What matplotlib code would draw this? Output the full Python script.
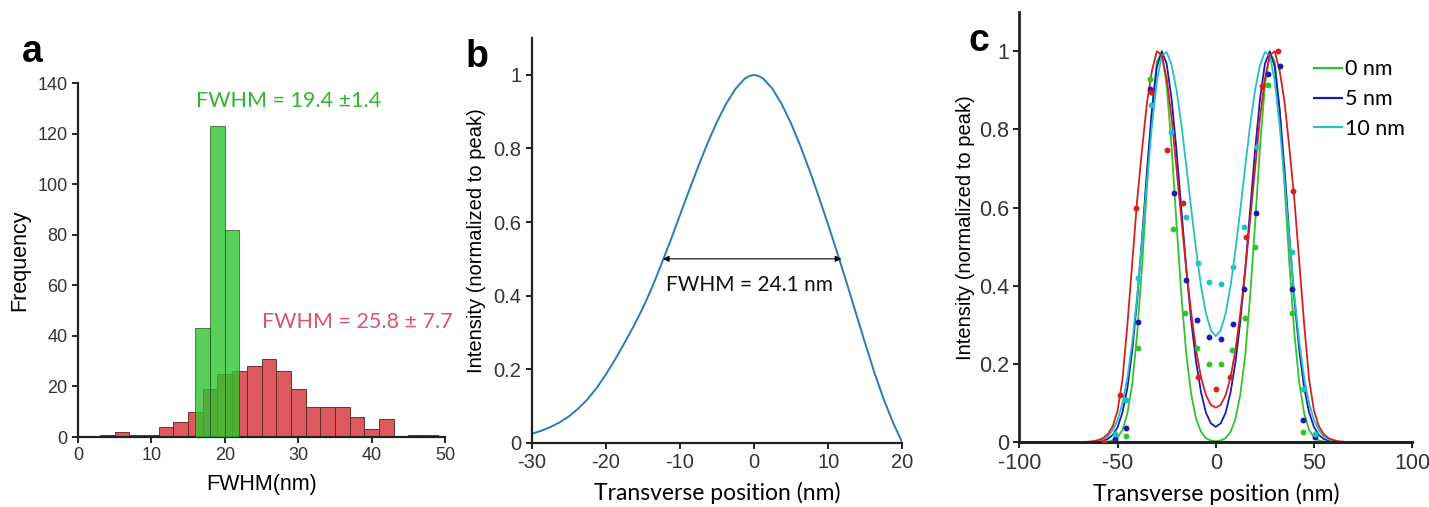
import numpy as np
import matplotlib
matplotlib.use('Agg')
import matplotlib.pyplot as plt
from matplotlib.lines import Line2D

plt.rcParams['font.family'] = 'Liberation Sans'
plt.rcParams['axes.unicode_minus'] = False

# ---- painel a: histogramas de FWHM ----
bordas_vermelho = [3, 5, 7, 9, 11, 13, 15, 17, 19, 21, 23, 25, 27, 29, 31, 33, 35, 37, 39, 41, 43, 45, 47, 49]
contagem_vermelho = [1, 2, 1, 1, 4, 6, 10, 19, 25, 26, 28, 31, 26, 19, 12, 12, 12, 8, 3, 7, 0, 1, 1]
bordas_verde = [16, 18, 20, 22]
contagem_verde = [43, 123, 82]

# ---- painel b: perfil de intensidade ----
posicao_b = [-30, -28.75, -27.5, -26.25, -25, -23.75, -22.5, -21.25, -20, -18.75, -17.5, -16.25,
             -15, -13.75, -12.5, -11.25, -10, -8.75, -7.5, -6.25, -5, -3.75, -2.5, -1.25, -0.625, 0,
             0.625, 1.25, 2.5, 3.75, 5, 6.25, 7.5, 8.75, 10, 11.25, 12.5, 13.75, 15, 16.25, 17.5, 18.75, 20]
intensidade_b = [0.024, 0.032, 0.042, 0.055, 0.071, 0.092, 0.117, 0.148, 0.185, 0.226, 0.27, 0.316,
                 0.366, 0.422, 0.485, 0.55, 0.618, 0.686, 0.752, 0.815, 0.872, 0.922, 0.962, 0.99, 0.997, 1.0,
                 0.997, 0.99, 0.962, 0.92, 0.868, 0.807, 0.74, 0.668, 0.593, 0.515, 0.435, 0.352, 0.27, 0.19, 0.118, 0.055, 0.0]

# ---- painel c: ajustes (linhas) e pontos medidos ----
posicao_c = np.concatenate([[-100], np.arange(-70, 70.01, 2.5), [100]])
ajuste_0nm = [0,
              0, 0, 0, 0, 0, 0, 0.001, 0.004, 0.012, 0.031, 0.073, 0.150, 0.278, 0.452, 0.655, 0.848,
              0.974, 0.995, 0.912, 0.755, 0.559, 0.375, 0.224, 0.122, 0.059, 0.026, 0.010, 0.004,
              0.002, 0.004, 0.010, 0.026, 0.059, 0.122, 0.224, 0.375, 0.559, 0.755, 0.912, 0.995,
              0.974, 0.848, 0.655, 0.452, 0.278, 0.150, 0.073, 0.031, 0.012, 0.004, 0.001, 0, 0, 0, 0, 0, 0,
              0]
ajuste_5nm = [0,
              0, 0, 0, 0, 0.001, 0.003, 0.008, 0.018, 0.038, 0.076, 0.138, 0.235, 0.365, 0.524, 0.696, 0.851,
              0.960, 1.000, 0.968, 0.878, 0.746, 0.594, 0.443, 0.310, 0.204, 0.127, 0.075, 0.048,
              0.039, 0.048, 0.075, 0.127, 0.204, 0.310, 0.443, 0.594, 0.746, 0.878, 0.968, 1.000,
              0.960, 0.851, 0.696, 0.524, 0.365, 0.235, 0.138, 0.076, 0.038, 0.018, 0.008, 0.003, 0.001, 0, 0, 0, 0,
              0]
ajuste_10nm = [0,
               0, 0, 0, 0.001, 0.003, 0.007, 0.015, 0.030, 0.056, 0.099, 0.164, 0.256, 0.375, 0.516, 0.667, 0.810,
               0.923, 0.989, 0.998, 0.965, 0.901, 0.812, 0.706, 0.596, 0.491, 0.399, 0.329, 0.286,
               0.271, 0.286, 0.329, 0.399, 0.491, 0.596, 0.706, 0.812, 0.901, 0.965, 0.998, 0.989,
               0.923, 0.810, 0.667, 0.516, 0.375, 0.256, 0.164, 0.099, 0.056, 0.030, 0.015, 0.007, 0.003, 0.001, 0, 0, 0,
               0]
ajuste_vermelho = [0,
                   0, 0, 0.001, 0.002, 0.005, 0.010, 0.020, 0.040, 0.080, 0.160, 0.300, 0.460, 0.620, 0.750, 0.870, 0.950,
                   1.000, 0.990, 0.930, 0.830, 0.700, 0.570, 0.440, 0.330, 0.235, 0.165, 0.120, 0.095,
                   0.088, 0.095, 0.120, 0.165, 0.235, 0.330, 0.440, 0.570, 0.700, 0.830, 0.930, 0.990,
                   1.000, 0.950, 0.870, 0.750, 0.620, 0.460, 0.300, 0.160, 0.080, 0.040, 0.020, 0.010, 0.005, 0.002, 0.001, 0, 0,
                   0]

pontos_0nm_x = [-45.6, -39.7, -33.6, -21.7, -15.6, -9.7, -3.7, 2.7, 8.3, 14.9, 20.2, 26.5, 38.7, 44.6]
pontos_0nm_y = [0.015, 0.24, 0.928, 0.545, 0.331, 0.24, 0.2, 0.2, 0.235, 0.317, 0.5, 0.914, 0.331, 0.026]
pontos_5nm_x = [-51.4, -45.6, -39.4, -33.4, -21.5, -15.3, -9.5, -3.7, 2.7, 8.7, 14.6, 20.5, 26.5, 32.7, 39.0, 44.6, 50.6]
pontos_5nm_y = [0.009, 0.037, 0.307, 0.903, 0.638, 0.415, 0.312, 0.269, 0.265, 0.301, 0.391, 0.585, 0.941, 0.961, 0.391, 0.056, 0.012]
pontos_10nm_x = [-51.4, -45.6, -39.7, -33.1, -22.6, -15.1, -9.3, -3.7, 2.7, 8.7, 14.6, 20.9, 39.0, 44.6, 50.6]
pontos_10nm_y = [0.02, 0.108, 0.42, 0.863, 0.794, 0.577, 0.459, 0.409, 0.404, 0.449, 0.551, 0.754, 0.487, 0.137, 0.022]
pontos_verm_x = [-56.8, -48.7, -40.7, -33.1, -24.6, -16.8, -9.0, 0.0, 7.3, 15.4, 23.4, 31.9, 39.5]
pontos_verm_y = [0.0, 0.121, 0.598, 0.897, 0.747, 0.613, 0.167, 0.137, 0.167, 0.526, 0.91, 1.0, 0.642]

COR_VERDE = '#2ec42e'
COR_AZUL = '#1c1cb0'
COR_CIANO = '#22c2c2'
COR_VERMELHO = '#d42020'

FONTE_EIXO = 'Liberation Sans'
FONTE_TEXTO = 'Lato'


def estilo_eixos(ax, tamanho_ticks):
    """Deixa apenas os eixos esquerdo e inferior, como no original."""
    for lado in ['top', 'right']:
        ax.spines[lado].set_visible(False)
    for lado in ['left', 'bottom']:
        ax.spines[lado].set_linewidth(1.6)
        ax.spines[lado].set_color('#222222')
    ax.tick_params(direction='out', length=4, width=1.4, labelsize=tamanho_ticks,
                   labelcolor='#333333', color='#222222')


def painel_a(ax):
    larg_v = np.diff(bordas_vermelho)
    ax.bar(bordas_vermelho[:-1], contagem_vermelho, width=larg_v, align='edge',
           color='#dc5a5e', edgecolor='#5a2020', linewidth=0.6, zorder=2)
    larg_g = np.diff(bordas_verde)
    ax.bar(bordas_verde[:-1], contagem_verde, width=larg_g, align='edge',
           color=COR_VERDE, alpha=0.8, edgecolor='#1f4f1f', linewidth=0.6, zorder=3)
    ax.set_xlim(0, 50)
    ax.set_ylim(0, 140)
    ax.set_xticks(range(0, 51, 10))
    ax.set_yticks(range(0, 141, 20))
    estilo_eixos(ax, 13)
    ax.set_xlabel('FWHM(nm)', family=FONTE_EIXO, fontsize=15.5, labelpad=7)
    ax.set_ylabel('Frequency', family=FONTE_EIXO, fontsize=15.5, labelpad=5)
    ax.text(28.7, 133, 'FWHM = 19.4 \u00b11.4', color='#2fb52f', family=FONTE_TEXTO,
            fontsize=15.5, ha='center', va='center')
    ax.text(38.1, 45.6, 'FWHM = 25.8 \u00b1 7.7', color='#d65670', family=FONTE_TEXTO,
            fontsize=15.5, ha='center', va='center', clip_on=False)


def painel_b(ax):
    ax.plot(posicao_b, intensidade_b, color='#2a7bbd', linewidth=1.4)
    ax.annotate('', xy=(-12.3, 0.5), xytext=(11.8, 0.5),
                arrowprops=dict(arrowstyle='<|-|>', color='black', lw=0.8,
                                mutation_scale=9, shrinkA=0, shrinkB=0))
    ax.text(-0.6, 0.43, 'FWHM = 24.1 nm', family=FONTE_TEXTO, fontsize=15,
            ha='center', va='center', color='#111111')
    ax.set_xlim(-30, 20)
    ax.set_ylim(0, 1.1)
    ax.set_xticks(range(-30, 21, 10))
    ax.set_yticks([0, 0.2, 0.4, 0.6, 0.8, 1])
    ax.set_yticklabels(['0', '0.2', '0.4', '0.6', '0.8', '1'])
    estilo_eixos(ax, 14.5)
    ax.set_xlabel('Transverse position (nm)', family=FONTE_TEXTO, fontsize=16.5, labelpad=7)
    ax.set_ylabel('Intensity (normalized to peak)', family=FONTE_EIXO, fontsize=14.5, labelpad=5)


def painel_c(ax):
    lw = 1.3
    ax.plot(posicao_c, ajuste_0nm, color=COR_VERDE, linewidth=lw, zorder=2)
    ax.plot(posicao_c, ajuste_5nm, color=COR_AZUL, linewidth=lw, zorder=2)
    ax.plot(posicao_c, ajuste_10nm, color=COR_CIANO, linewidth=lw, zorder=2)
    ax.plot(posicao_c, ajuste_vermelho, color=COR_VERMELHO, linewidth=lw, zorder=2)
    ax.scatter(pontos_0nm_x, pontos_0nm_y, s=18, color=COR_VERDE, zorder=3, linewidths=0)
    ax.scatter(pontos_5nm_x, pontos_5nm_y, s=18, color=COR_AZUL, zorder=3, linewidths=0)
    ax.scatter(pontos_10nm_x, pontos_10nm_y, s=18, color=COR_CIANO, zorder=3, linewidths=0)
    ax.scatter(pontos_verm_x, pontos_verm_y, s=18, color=COR_VERMELHO, zorder=3, linewidths=0)
    ax.set_xlim(-100, 100)
    ax.set_ylim(0, 1.1)
    ax.set_xticks(range(-100, 101, 50))
    ax.set_yticks([0, 0.2, 0.4, 0.6, 0.8, 1])
    ax.set_yticklabels(['0', '0.2', '0.4', '0.6', '0.8', '1'])
    estilo_eixos(ax, 15.5)
    ax.spines['bottom'].set_linewidth(2.2)
    ax.spines['left'].set_linewidth(2.0)
    ax.set_xlabel('Transverse position (nm)', family=FONTE_TEXTO, fontsize=16.5, labelpad=7)
    ax.set_ylabel('Intensity (normalized to peak)', family=FONTE_EIXO, fontsize=14.5, labelpad=3)
    alcas = [Line2D([], [], color=COR_VERDE, lw=1.6),
             Line2D([], [], color=COR_AZUL, lw=1.6),
             Line2D([], [], color=COR_CIANO, lw=1.6)]
    ax.legend(alcas, ['0 nm', '5 nm', '10 nm'], loc='upper right',
              bbox_to_anchor=(1.03, 0.935), frameon=False, handlelength=1.3,
              handletextpad=0.15, labelspacing=0.45, prop={'family': FONTE_TEXTO, 'size': 15.5})


def main():
    fig = plt.figure(figsize=(14.29, 5.07), dpi=100)
    ax_a = fig.add_axes([0.0546, 0.138, 0.2568, 0.698])
    ax_b = fig.add_axes([0.372, 0.1268, 0.2594, 0.798])
    ax_c = fig.add_axes([0.7133, 0.128, 0.275, 0.848])

    painel_a(ax_a)
    painel_b(ax_b)
    painel_c(ax_c)

    # letras dos paineis
    for letra, x, y in [('a', 0.0155, 0.878), ('b', 0.3255, 0.868), ('c', 0.6775, 0.9)]:
        fig.text(x, y, letra, family=FONTE_EIXO, fontweight='bold', fontsize=27, va='baseline')

    fig.savefig('out.png', dpi=100)
    plt.close(fig)


if __name__ == "__main__":
    main()
